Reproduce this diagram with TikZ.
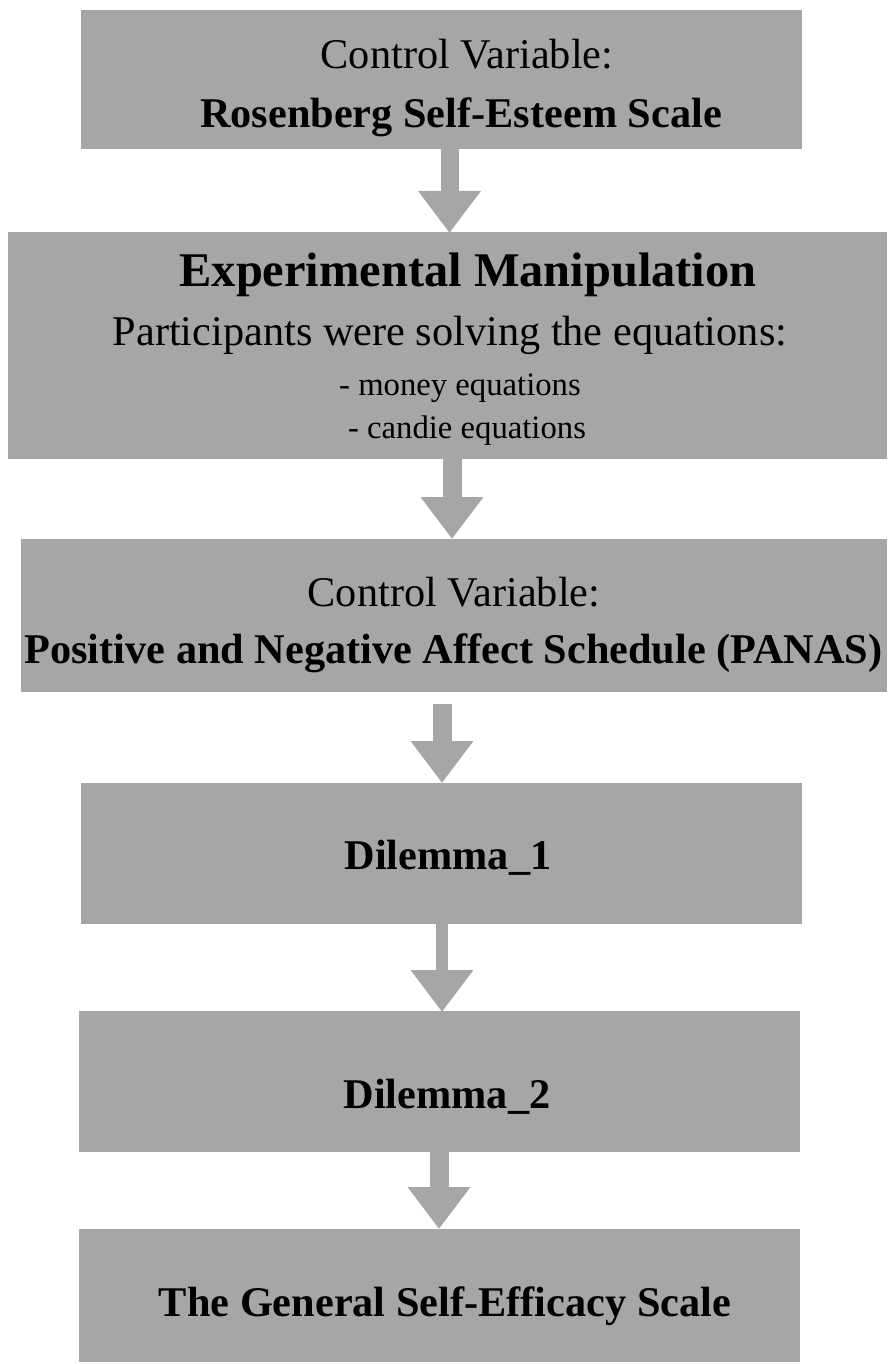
\documentclass[tikz,border=0pt]{standalone}
\usepackage{fontspec}
\setmainfont{Liberation Serif}
\usetikzlibrary{arrows.meta}
\definecolor{boxgray}{HTML}{A6A6A6}
\tikzset{
  box/.style={fill=boxgray, draw=none, inner sep=0pt, outer sep=0pt, anchor=north west},
  txt/.style={inner sep=0pt, outer sep=0pt, anchor=base, text=black, font=\fontsize{42.3}{50}\selectfont},
  btxt/.style={txt, font=\fontsize{42.3}{50}\selectfont\bfseries},
  bigtxt/.style={txt, font=\fontsize{48.4}{56}\selectfont\bfseries},
  smtxt/.style={txt, font=\fontsize{32.7}{40}\selectfont},
  bigarrow/.style={draw=boxgray, line width=#1, line cap=butt, -{Triangle[width=60pt,length=42pt]}},
}
\begin{document}
\begin{tikzpicture}[x=1pt,y=-1pt]
\useasboundingbox (0,0) rectangle (887,1364);
% boxes
\node[box, minimum width=721pt, minimum height=139pt] (b1) at (81,10) {};
\node[box, minimum width=879pt, minimum height=227pt] (b2) at (8,232) {};
\node[box, minimum width=866pt, minimum height=153pt] (b3) at (21,539) {};
\node[box, minimum width=721pt, minimum height=141pt] (b4) at (81,783) {};
\node[box, minimum width=721pt, minimum height=141pt] (b5) at (79,1011) {};
\node[box, minimum width=721pt, minimum height=133pt] (b6) at (79,1229) {};
% texts
\node[txt] (t1a) at (467,69) {Control Variable:};
\node[btxt] (t1b) at (461,128) {Rosenberg Self-Esteem Scale};
\node[bigtxt] (t2a) at (468,286) {Experimental Manipulation};
\node[txt] (t2b) at (450,345) {Participants were solving the equations:};
\node[smtxt] (t2c) at (460,395) {- money equations};
\node[smtxt] (t2d) at (467,438) {- candie equations};
\node[txt] (t3a) at (454,606) {Control Variable:};
\node[btxt] (t3b) at (453.5,663) {Positive and Negative Affect Schedule (PANAS)};
\node[btxt] (t4) at (448,869) {Dilemma\_1};
\node[btxt] (t5) at (447,1108) {Dilemma\_2};
\node[btxt] (t6) at (445,1316) {The General Self-Efficacy Scale};
% arrows (vertical: start and end share the same x)
\draw[bigarrow=18pt] ([xshift=8pt]b1.south) -- ([xshift=8pt,yshift=-1pt]b1.south |- b2.north);
\draw[bigarrow=19pt] ([xshift=4.5pt]b2.south) -- ([xshift=4.5pt]b2.south |- b3.north);
\draw[bigarrow=19pt] ([xshift=-12pt,yshift=-12pt]b3.south) -- ([xshift=-12pt]b3.south |- b4.north);
\draw[bigarrow=12pt] ([xshift=0.5pt]b4.south) -- ([xshift=0.5pt,yshift=-1pt]b4.south |- b5.north);
\draw[bigarrow=19pt] ([xshift=-0.5pt]b5.south) -- ([xshift=-0.5pt]b5.south |- b6.north);
\end{tikzpicture}
\end{document}
